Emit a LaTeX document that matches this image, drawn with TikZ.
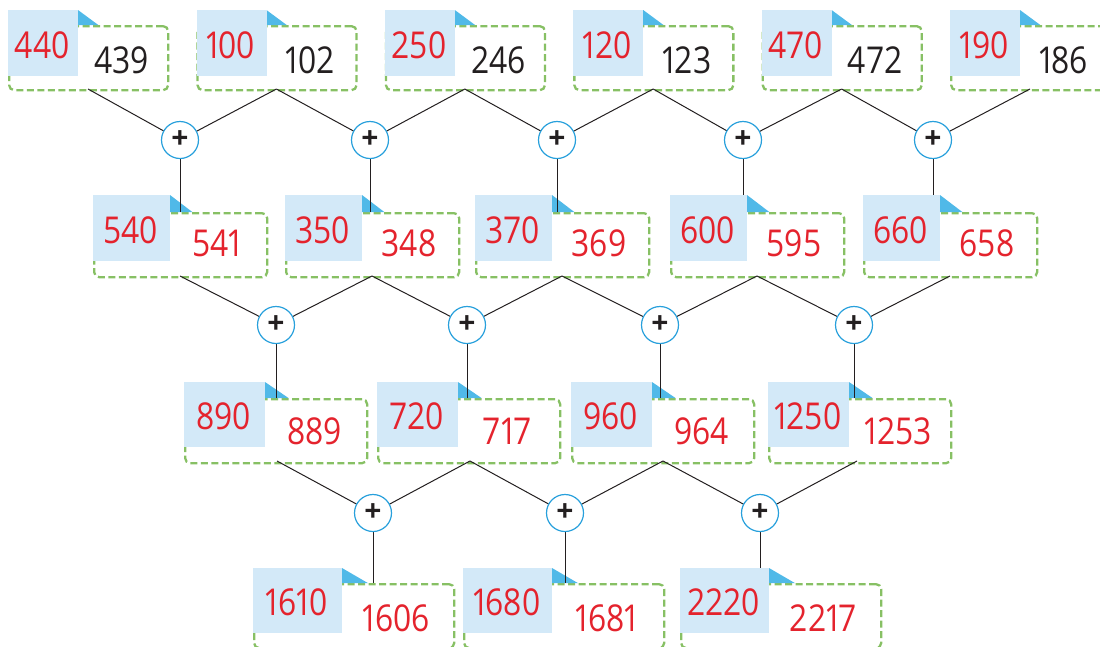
\documentclass[tikz,border=0pt]{standalone}
\usepackage{fontspec}
\setmainfont{Open Sans}[FakeStretch=0.86, Numbers=Proportional]
\newfontfamily\plusfont{Open Sans}
\definecolor{numred}{RGB}{228,35,45}
\definecolor{numblack}{RGB}{35,31,32}
\definecolor{sqblue}{RGB}{211,233,248}
\definecolor{triblue}{RGB}{80,185,232}
\definecolor{dashgreen}{RGB}{135,192,100}
\definecolor{ringblue}{RGB}{40,160,220}
\tikzset{
  dashbox/.style={draw=dashgreen, line width=2.3pt, dash pattern=on 7pt off 3.5pt, rounded corners=5pt, inner sep=0pt},
  bluesq/.style={fill=sqblue, inner sep=0pt},
  tri/.style={fill=triblue},
  num/.style={font=\fontsize{37}{40}\selectfont, inner sep=0pt, text=numred},
  link/.style={draw=numblack, line width=1pt},
  plusnode/.style={circle, draw=ringblue, line width=1.2pt, fill=white, minimum size=37pt, inner sep=0pt,
     font=\plusfont\fontsize{30}{30}\selectfont\bfseries, text=numblack}
}
% #1 name, #2 x0, #3 blue top, #4 blue width, #5 blue height, #6 dash top, #7 dash width
\newcommand\mycardframe[7]{%
  \node[dashbox, anchor=north west, minimum width=#7pt, minimum height=64pt] (#1) at (#2,#6) {};
  \fill[tri] ({#2+#4},#3) -- ({#2+#4},#6) -- ({#2+#4+0.29*#4},#6) -- cycle;
}
% #1 name, #2 x0, #3 blue top, #4 blue width, #5 blue height, #6 dash top, #7 dash width, #8 red text, #9 other text
\newcommand\mycardface[9]{%
  \node[bluesq, anchor=north west, minimum width=#4pt, minimum height=#5pt] (#1b) at (#2,#3) {};
  \node[num] (#1r) at ($(#1b.center)+(-1,2)$) {#8};
  \node[num] (#1o) at ({#2+(#4+#7)/2-1},{#6+\oyoff}) {#9};
}
\usetikzlibrary{calc}
\begin{document}
\begin{tikzpicture}[x=1pt,y=-1pt]
\useasboundingbox (0,0) rectangle (1100,646);
% frames
\foreach \n/\x in {a1/8,a2/196.4,a3/384.8,a4/573.2,a5/761.6,a6/950} {\mycardframe{\n}{\x}{10}{70}{66}{25}{159}}
\foreach \n/\x in {b1/93,b2/285,b3/475,b4/670,b5/863} {\mycardframe{\n}{\x}{195}{77}{66}{212}{173}}
\foreach \n/\x in {c1/184,c2/377,c3/571,c4/768} {\mycardframe{\n}{\x}{382}{81}{65}{398}{182}}
\foreach \n/\x in {d1/253,d2/463,d3/680} {\mycardframe{\n}{\x}{568}{89}{65}{583}{200}}
% attach points
\foreach \i/\x in {1/88,2/276.4,3/464.8,4/653.2,5/841.6,6/1030} {\coordinate (a\i s) at (\x,89);}
\foreach \i/\x in {1/180,2/372,3/562,4/757,5/950} {\coordinate (b\i s) at (\x,276);}
\foreach \i/\x in {1/277,2/470,3/663,4/857} {\coordinate (c\i s) at (\x,461);}
\foreach \i/\x in {1/180,2/370,3/557,4/743,5/933} {\coordinate (pa\i) at (\x,140);}
\foreach \i/\x in {1/276,2/467,3/660,4/854} {\coordinate (pb\i) at (\x,325);}
\foreach \i/\x in {1/373,2/565,3/760} {\coordinate (pc\i) at (\x,513);}
\foreach \i/\x in {1/180,2/370,3/557,4/743,5/933} {\coordinate (b\i t) at (\x,212);}
\foreach \i/\x in {1/276,2/467,3/660,4/854} {\coordinate (c\i t) at (\x,398);}
\foreach \i/\x in {1/373,2/565,3/760} {\coordinate (d\i t) at (\x,583);}
% links
\foreach \i [evaluate=\i as \j using int(\i+1)] in {1,...,5} {
  \draw[link] (a\i s) -- (pa\i) -- (a\j s);
  \draw[link] (pa\i) -- (b\i t);
}
\foreach \i [evaluate=\i as \j using int(\i+1)] in {1,...,4} {
  \draw[link] (b\i s) -- (pb\i) -- (b\j s);
  \draw[link] (pb\i) -- (c\i t);
}
\foreach \i [evaluate=\i as \j using int(\i+1)] in {1,...,3} {
  \draw[link] (c\i s) -- (pc\i) -- (c\j s);
  \draw[link] (pc\i) -- (d\i t);
}
% faces
\def\oyoff{35}
\mycardface{a1}{8}{10}{70}{66}{25}{159}{440}{\color{numblack}439}
\mycardface{a2}{196.4}{10}{70}{66}{25}{159}{100}{\color{numblack}102}
\mycardface{a3}{384.8}{10}{70}{66}{25}{159}{250}{\color{numblack}246}
\mycardface{a4}{573.2}{10}{70}{66}{25}{159}{120}{\color{numblack}123}
\mycardface{a5}{761.6}{10}{70}{66}{25}{159}{470}{\color{numblack}472}
\mycardface{a6}{950}{10}{70}{66}{25}{159}{190}{\color{numblack}186}
\def\oyoff{31}
\mycardface{b1}{93}{195}{77}{66}{212}{173}{540}{541}
\mycardface{b2}{285}{195}{77}{66}{212}{173}{350}{348}
\mycardface{b3}{475}{195}{77}{66}{212}{173}{370}{369}
\mycardface{b4}{670}{195}{77}{66}{212}{173}{600}{595}
\mycardface{b5}{863}{195}{77}{66}{212}{173}{660}{658}
\def\oyoff{33}
\mycardface{c1}{184}{382}{81}{65}{398}{182}{890}{889}
\mycardface{c2}{377}{382}{81}{65}{398}{182}{720}{717}
\mycardface{c3}{571}{382}{81}{65}{398}{182}{960}{964}
\mycardface{c4}{768}{382}{81}{65}{398}{182}{1250}{1253}
\def\oyoff{35}
\mycardface{d1}{253}{568}{89}{65}{583}{200}{1610}{1606}
\mycardface{d2}{463}{568}{89}{65}{583}{200}{1680}{1681}
\mycardface{d3}{680}{568}{89}{65}{583}{200}{2220}{2217}
% plus nodes
\foreach \p in {pa1,pa2,pa3,pa4,pa5,pb1,pb2,pb3,pb4,pc1,pc2,pc3} {
  \node[plusnode] (\p n) at (\p) {+};
}
\end{tikzpicture}
\end{document}
